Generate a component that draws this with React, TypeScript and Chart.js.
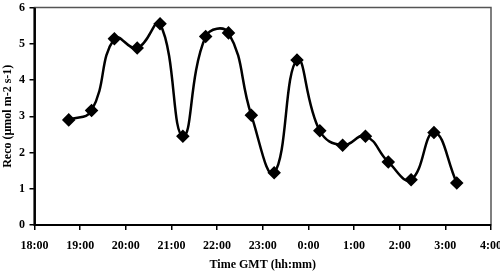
import React, { useEffect, useRef } from "react";
import { Chart, registerables } from "chart.js";

Chart.register(...registerables);

const times = ["18:45", "19:15", "19:45", "20:15", "20:45", "21:15", "21:45", "22:15", "22:45", "23:15", "23:45", "0:15", "0:45", "1:15", "1:45", "2:15", "2:45", "3:15"];
const reco = [2.9, 3.16, 5.14, 4.88, 5.55, 2.45, 5.2, 5.3, 3.03, 1.44, 4.55, 2.6, 2.2, 2.45, 1.74, 1.25, 2.55, 1.16];
const xTickLabels = ["18:00", "19:00", "20:00", "21:00", "22:00", "23:00", "0:00", "1:00", "2:00", "3:00", "4:00"];
const yTicks = [0, 1, 2, 3, 4, 5, 6];

const START_HOUR = 18;
function toHours(t: string): number {
  const [h, m] = t.split(":").map(Number);
  let v = h + m / 60 - START_HOUR;
  if (v < 0) v += 24;
  return v;
}

const frame = {
  id: "frame",
  afterDraw(chart: any) {
    const { ctx, chartArea } = chart;
    ctx.save();
    ctx.strokeStyle = "#555";
    ctx.lineWidth = 1.5;
    ctx.strokeRect(chartArea.left, chartArea.top, chartArea.right - chartArea.left, chartArea.bottom - chartArea.top);
    ctx.strokeStyle = "#000";
    ctx.lineWidth = 2;
    ctx.beginPath();
    ctx.moveTo(chartArea.left, chartArea.top);
    ctx.lineTo(chartArea.left, chartArea.bottom);
    ctx.lineTo(chartArea.right, chartArea.bottom);
    ctx.stroke();
    ctx.restore();
  },
};

export default function App() {
  const ref = useRef<HTMLCanvasElement>(null);
  useEffect(() => {
    document.body.style.margin = "0";
    const font = { family: "'Liberation Serif', 'Times New Roman', serif", size: 12, weight: "bold" as const };
    const chart = new Chart(ref.current!, {
      type: "line",
      data: {
        datasets: [
          {
            data: times.map((t, i) => ({ x: toHours(t), y: reco[i] })),
            borderColor: "#000",
            backgroundColor: "#000",
            borderWidth: 2.5,
            tension: 0.45,
            pointStyle: "rectRot",
            pointRadius: 5,
            pointHoverRadius: 5,
            fill: false,
          },
        ],
      },
      options: {
        animation: false,
        responsive: false,
        devicePixelRatio: 1,
        layout: { padding: { top: 4, right: 9, bottom: 0, left: 0 } },
        plugins: { legend: { display: false }, tooltip: { enabled: false } },
        scales: {
          x: {
            type: "linear",
            min: 0,
            max: 10,
            afterBuildTicks: (s: any) => {
              s.ticks = xTickLabels.map((_, i) => ({ value: i }));
            },
            ticks: {
              color: "#000",
              font,
              padding: 8.5,
              maxRotation: 0,
              autoSkip: false,
              callback: (_v: any, i: number) => xTickLabels[i],
            },
            grid: { display: true, drawOnChartArea: false, drawTicks: true, tickLength: 5, color: "#000", lineWidth: 1.5 },
            border: { display: true, color: "#000", width: 2 },
            title: { display: true, text: "Time GMT (hh:mm)", color: "#000", font, padding: { top: 4, bottom: 1 } },
            afterFit: (s: any) => {
              s.height = 48;
              s.paddingLeft = 0;
              s.paddingRight = 0;
            },
          },
          y: {
            min: 0,
            max: 6,
            afterBuildTicks: (s: any) => {
              s.ticks = yTicks.map((v) => ({ value: v }));
            },
            ticks: { color: "#000", font, padding: 4.5 },
            grid: { display: true, drawOnChartArea: false, drawTicks: true, tickLength: 5, color: "#000", lineWidth: 1.5 },
            border: { display: true, color: "#000", width: 2 },
            title: { display: true, text: "Reco (µmol m-2 s-1)", color: "#000", font, padding: { top: 1, bottom: 0 } },
            afterFit: (s: any) => {
              s.width = 34.5;
              s.paddingTop = 0;
              s.paddingBottom = 0;
            },
          },
        },
      },
      plugins: [frame],
    });
    return () => chart.destroy();
  }, []);
  return (
    <div style={{ position: "absolute", left: 0, top: 0, width: 500, height: 273 }}>
      <canvas ref={ref} width={500} height={273} style={{ display: "block", width: 500, height: 273 }} />
    </div>
  );
}
